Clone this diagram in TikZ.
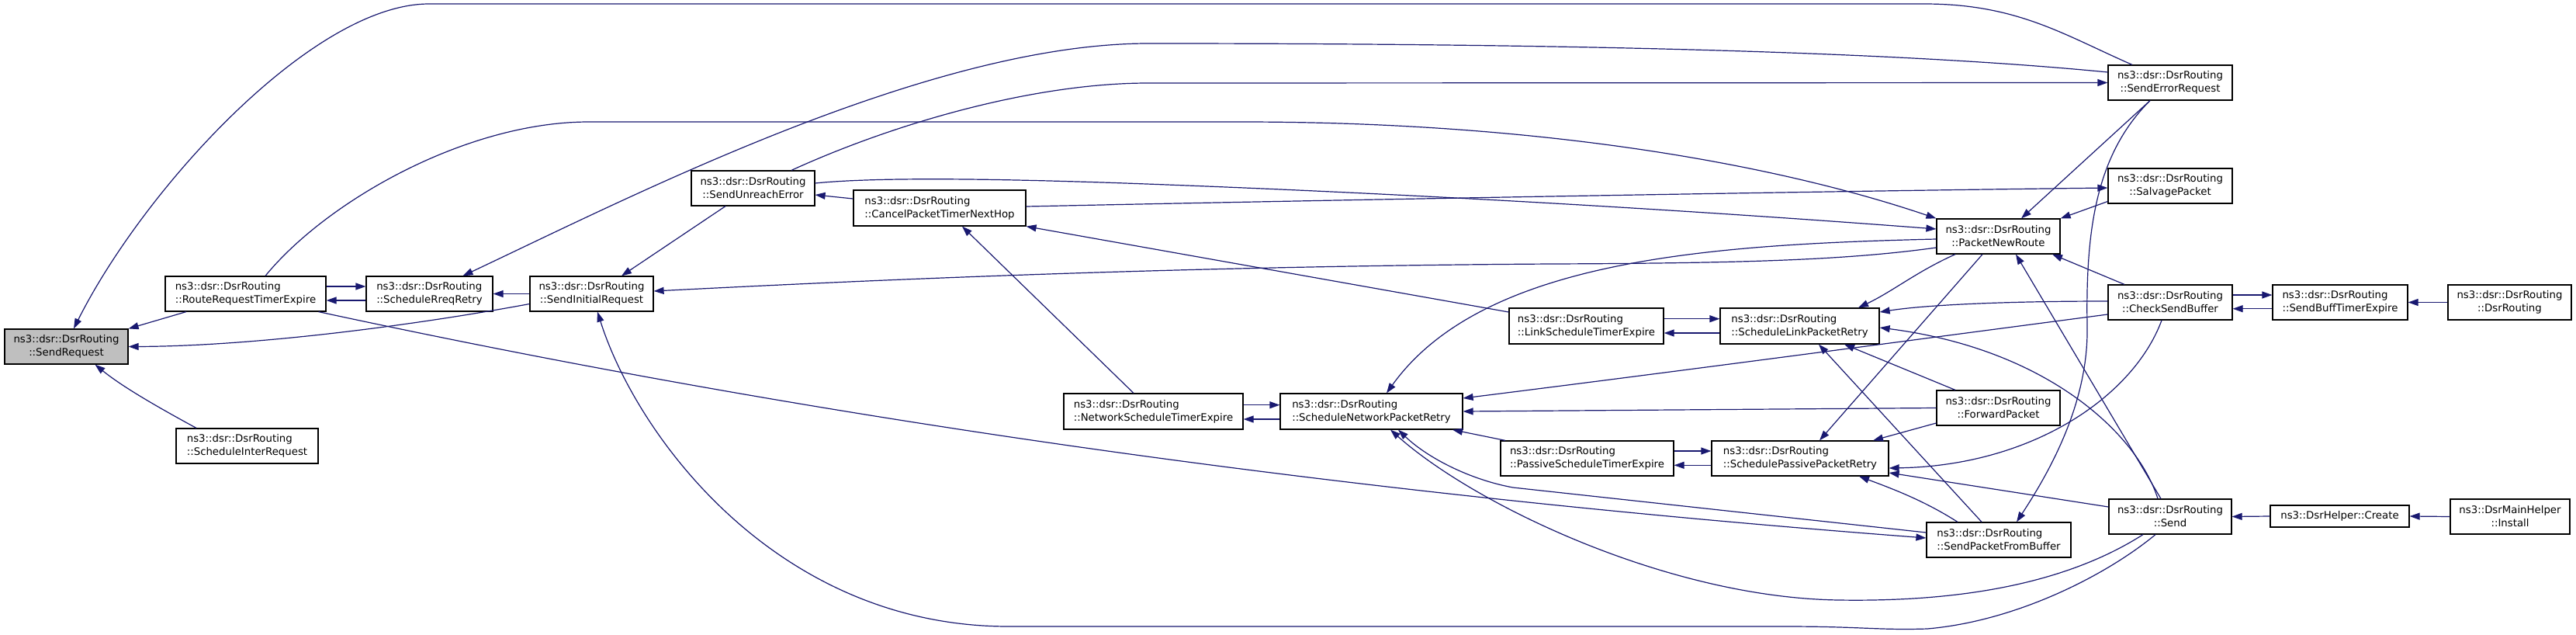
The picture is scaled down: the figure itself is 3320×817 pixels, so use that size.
\documentclass[tikz,border=0pt]{standalone}
\usepackage{fontspec}
\setmainfont{DejaVu Sans}
\usetikzlibrary{arrows.meta}
\definecolor{edgeblue}{HTML}{191970}
\definecolor{boxgray}{HTML}{BFBFBF}
\begin{document}
\begin{tikzpicture}[x=1pt,y=-1pt,
  fnbox/.style 2 args={draw=black, line width=1.2pt, fill=white, inner sep=0pt,
    minimum width=#1pt, minimum height=#2pt,
    font=\fontsize{13.3}{17}\selectfont, align=center},
  fnboxl/.style 2 args={fnbox={#1}{#2}, align=left},
  e/.style={draw=edgeblue, line width=1.2pt, -{Triangle[length=13pt,width=9pt]}},
]
\useasboundingbox (0,0) rectangle (3320,817);

\node[fnbox={159}{45}, fill=boxgray] (SR) at (85.5,446.5) {ns3::dsr::DsrRouting\\::SendRequest};
\node[fnboxl={207}{45}] (RRTE) at (316.5,378.5) {ns3::dsr::DsrRouting\\::RouteRequestTimerExpire};
\node[fnboxl={183}{45}] (SIR) at (318.5,574.5) {ns3::dsr::DsrRouting\\::ScheduleInterRequest};
\node[fnboxl={163}{45}] (SRR) at (553.5,378.5) {ns3::dsr::DsrRouting\\::ScheduleRreqRetry};
\node[fnbox={159}{45}] (SIRq) at (762.5,378.5) {ns3::dsr::DsrRouting\\::SendInitialRequest};
\node[fnbox={159}{45}] (SUE) at (970.5,242.5) {ns3::dsr::DsrRouting\\::SendUnreachError};
\node[fnboxl={222}{46}] (CPT) at (1211,268) {ns3::dsr::DsrRouting\\::CancelPacketTimerNextHop};
\node[fnboxl={231}{46}] (NSTE) at (1486.5,530) {ns3::dsr::DsrRouting\\::NetworkScheduleTimerExpire};
\node[fnboxl={235}{46}] (SNPR) at (1767.5,530) {ns3::dsr::DsrRouting\\::ScheduleNetworkPacketRetry};
\node[fnboxl={199}{46}] (LSTE) at (2044.5,420) {ns3::dsr::DsrRouting\\::LinkScheduleTimerExpire};
\node[fnboxl={223}{45}] (PSTE) at (2045.5,590.5) {ns3::dsr::DsrRouting\\::PassiveScheduleTimerExpire};
\node[fnboxl={205}{46}] (SLPR) at (2319.5,420) {ns3::dsr::DsrRouting\\::ScheduleLinkPacketRetry};
\node[fnboxl={228}{45}] (SPPR) at (2320,590.5) {ns3::dsr::DsrRouting\\::SchedulePassivePacketRetry};
\node[fnboxl={186}{45}] (SPFB) at (2576,695.5) {ns3::dsr::DsrRouting\\::SendPacketFromBuffer};
\node[fnbox={159}{45}] (PNR) at (2575.5,304.5) {ns3::dsr::DsrRouting\\::PacketNewRoute};
\node[fnbox={159}{45}] (FP) at (2575.5,525.5) {ns3::dsr::DsrRouting\\::ForwardPacket};
\node[fnbox={160}{45}] (SER) at (2797,106.5) {ns3::dsr::DsrRouting\\::SendErrorRequest};
\node[fnbox={160}{45}] (SP) at (2797,239.5) {ns3::dsr::DsrRouting\\::SalvagePacket};
\node[fnbox={160}{45}] (CSB) at (2797,389.5) {ns3::dsr::DsrRouting\\::CheckSendBuffer};
\node[fnbox={158}{45}] (Send) at (2797,665.5) {ns3::dsr::DsrRouting\\::Send};
\node[fnboxl={174}{45}] (SBTE) at (3016,389.5) {ns3::dsr::DsrRouting\\::SendBuffTimerExpire};
\node[fnbox={159}{45}] (DR) at (3234.5,389.5) {ns3::dsr::DsrRouting\\::DsrRouting};
\node[fnbox={179}{28}] (Create) at (3015.5,665) {ns3::DsrHelper::Create};
\node[fnbox={154}{45}] (Install) at (3235,665.5) {ns3::DsrMainHelper\\::Install};

% edges (arrow at callee)
\draw[e] ([xshift=-76.5pt]RRTE.south) -- (SR.north east);
\draw[e] ([yshift=-13pt]SIRq.west) .. controls (540,418) and (330,446) .. (SR.east);
\draw[e] ([xshift=-65.5pt]SIR.north) .. controls (210,528) and (160,500) .. ([xshift=37pt]SR.south);
\draw[e] ([xshift=-49pt]SER.north) .. controls (2660,45) and (2600,5) .. (2480,5) -- (553,5) .. controls (403,5) and (185,244) .. ([xshift=9.5pt]SR.north);
\draw[e] ([yshift=13.5pt]SER.west) .. controls (2400,62) and (1900,56) .. (1480,56) .. controls (1200,56) and (820,250) .. ([xshift=43pt]SRR.north);
\draw[e] ([xshift=49.5pt]SUE.north) .. controls (1150,160) and (1330,107) .. (1480,107) -- (SER.west);
\draw[e] ([xshift=25.5pt]RRTE.north) .. controls (420,260) and (600,157) .. (759,157) -- (1600,157) .. controls (2000,157) and (2300,215) .. (PNR.north west);
\draw[e] ([xshift=-35.5pt]SUE.south) -- ([xshift=38.5pt]SIRq.north);
\draw[e] ([yshift=12pt]CPT.west) -- ([yshift=-8.5pt]SUE.east);
\draw[e] ([yshift=6.5pt]SUE.east) .. controls (1120,229) and (1250,229) .. (1450,236) .. controls (1900,252) and (2300,280) .. ([yshift=9.5pt]PNR.west);
\draw[e] ([yshift=2pt]CPT.east) .. controls (1700,258) and (2300,247) .. ([yshift=-2.5pt]SP.west);
\draw[e] ([yshift=-14.5pt]PNR.west) .. controls (2380,335) and (2250,339) .. (2000,340) .. controls (1500,343) and (1100,362) .. ([yshift=3.5pt]SIRq.east);
\draw[e] ([yshift=9.5pt]RRTE.east) -- ([yshift=9.5pt]SRR.west);
\draw[e] ([yshift=-8.5pt]SRR.west) -- ([yshift=-8.5pt]RRTE.east);
\draw[e] (SIRq.west) -- (SRR.east);
\draw[e] ([yshift=8.3pt]NSTE.east) -- ([yshift=8.3pt]SNPR.west);
\draw[e] ([yshift=-10pt]SNPR.west) -- ([yshift=-10pt]NSTE.east);
\draw[e] ([yshift=9.3pt]LSTE.east) -- ([yshift=9.3pt]SLPR.west);
\draw[e] ([yshift=-9pt]SLPR.west) -- ([yshift=-9pt]LSTE.east);
\draw[e] ([yshift=9.5pt]PSTE.east) -- ([yshift=9.5pt]SPPR.west);
\draw[e] ([yshift=-8.8pt]SPPR.west) -- ([yshift=-8.8pt]PSTE.east);
\draw[e] ([yshift=9.5pt]CSB.east) -- ([yshift=9.5pt]SBTE.west);
\draw[e] ([yshift=-8.2pt]SBTE.west) -- ([yshift=-8.2pt]CSB.east);
\draw[e] (DR.west) -- (SBTE.east);
\draw[e] (Create.west) -- (Send.east);
\draw[e] (Install.west) -- (Create.east);
\draw[e] ([yshift=18pt]LSTE.west) -- (CPT.south east);
\draw[e] ([xshift=-25.5pt]NSTE.north) -- ([xshift=29pt]CPT.south);
\draw[e] ([yshift=-3.5pt]PNR.west) .. controls (2200,315) and (1910,335) .. ([xshift=19.5pt]SNPR.north);
\draw[e] ([xshift=-55.5pt]PNR.south) .. controls (2470,350) and (2440,375) .. ([xshift=75.5pt]SLPR.north);
\draw[e] ([xshift=-20.5pt]PNR.south) -- ([xshift=25pt]SPPR.north);
\draw[e] ([xshift=-12pt]Send.north) -- ([xshift=22.5pt]PNR.south);
\draw[e] ([xshift=-16pt]Send.north) .. controls (2755,560) and (2640,450) .. ([yshift=-2pt]SLPR.east);
\draw[e] ([xshift=-59pt]CSB.north) -- ([xshift=69.5pt]PNR.south);
\draw[e] ([xshift=-26pt]SER.south) -- ([xshift=29.5pt]PNR.north);
\draw[e] ([yshift=-20pt]SP.west) -- (PNR.north east);
\draw[e] ([xshift=-26pt]SER.south) .. controls (2700,200) and (2688,300) .. (2690,420) .. controls (2692,520) and (2640,610) .. ([xshift=23pt]SPFB.north);
\draw[e] ([yshift=1.5pt]CSB.west) .. controls (2580,388) and (2480,393) .. ([yshift=18pt]SLPR.east);
\draw[e] ([yshift=-15.5pt]CSB.west) .. controls (2450,440) and (2150,480) .. ([yshift=17pt]SNPR.east);
\draw[e] ([xshift=-11pt]CSB.south) .. controls (2750,510) and (2620,600) .. ([yshift=-12.5pt]SPPR.east);
\draw[e] ([xshift=-55.5pt]FP.north) -- ([xshift=57.5pt]SLPR.south);
\draw[e] ([xshift=-22pt]SPFB.north) -- ([xshift=24.5pt]SLPR.south);
\draw[e] (FP.west) -- (SNPR.east);
\draw[e] ([yshift=-19.5pt]FP.west) -- ([xshift=94pt]SPPR.north);
\draw[e] ([yshift=12.5pt]Send.west) -- ([yshift=-18.5pt]SPPR.east);
\draw[e] ([xshift=-53pt]SPFB.north) .. controls (2480,645) and (2440,630) .. ([xshift=76pt]SPPR.south);
\draw[e] ([xshift=-105.5pt]PSTE.north) -- ([xshift=104.5pt]SNPR.south);
\draw[e] ([yshift=9.5pt]SPFB.west) -- (1950,628) .. controls (1895,618) and (1840,590) .. ([xshift=34.5pt]SNPR.south);
\draw[e] ([xshift=-35pt]Send.south) .. controls (2650,760) and (2500,775) .. (2370,773) .. controls (2150,770) and (1900,650) .. ([xshift=24.5pt]SNPR.south);
\draw[e] ([xshift=-19pt]Send.south) .. controls (2716,740) and (2600,800) .. (2484,810) .. controls (2420,812) and (2400,807) .. (2300,807) -- (1300,807) .. controls (1000,807) and (820,560) .. ([xshift=7.5pt]SIRq.south);
\draw[e] ([xshift=-10pt]RRTE.south east) .. controls (1100,550) and (1784,640) .. ([yshift=2.5pt]SPFB.west);
\end{tikzpicture}
\end{document}
